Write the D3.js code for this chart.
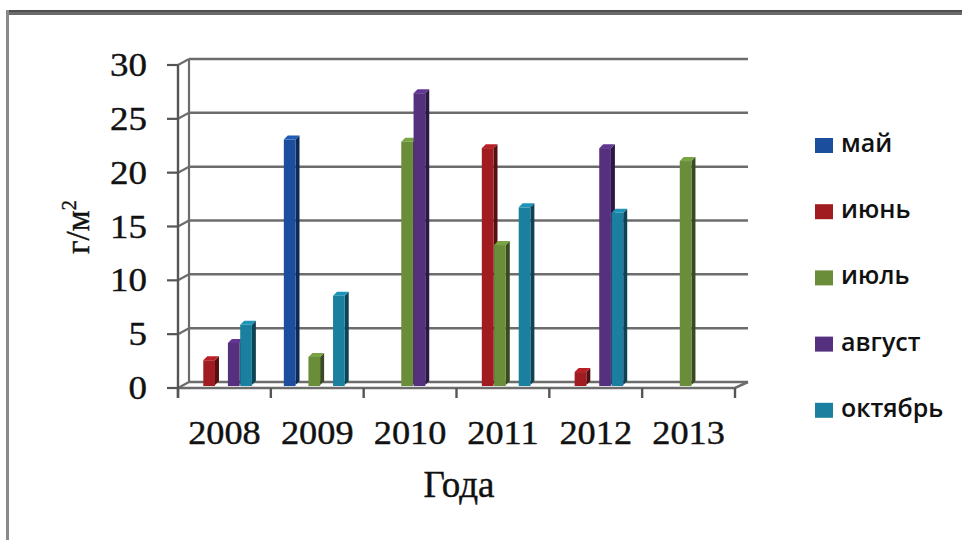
<!DOCTYPE html>
<html>
<head>
<meta charset="utf-8">
<script src="https://d3js.org/d3.v7.min.js"></script>
<style>
  body { margin: 0; background: #fff; }
</style>
</head>
<body>
<div id="chart"></div>
<script>
// data (г/м2 by month and year)
var years = ["2008", "2009", "2010", "2011", "2012", "2013"];
var months = ["май", "июнь", "июль", "август", "октябрь"];
var may     = [0, 22.8, 0, 0, 0, 0];
var june    = [2.3, 0, 0, 22.0, 1.2, 0];
var july    = [0, 2.6, 22.6, 13.0, 0, 20.8];
var august  = [3.9, 0, 27.1, 0, 22.0, 0];
var october = [5.6, 8.3, 0, 16.5, 16.0, 0];
var yTicks = [0, 5, 10, 15, 20, 25, 30];

var colors = ["#1b4f9e", "#a01c21", "#6a8d3a", "#54307f", "#1b80a0"];
var series = [may, june, july, august, october];

var width = 962, height = 540;
var depth = {dx: 11, dy: -6};   // back wall shift
var mid = {dx: 0, dy: -3};      // bars sit half way in

var svg = d3.select("#chart")
    .append("svg")
    .attr("width", width)
    .attr("height", height)
    .style("font-family", "'Liberation Serif', 'Times New Roman', serif");

// frame (only top and left edges are visible)
svg.append("rect").attr("x", 6).attr("y", 10).attr("width", width).attr("height", 5).attr("fill", "#6a6a6a");
svg.append("rect").attr("x", 6).attr("y", 10).attr("width", width).attr("height", 2).attr("fill", "#4f4f4f");
svg.append("rect").attr("x", 6).attr("y", 10).attr("width", 3).attr("height", height).attr("fill", "#8a8a8a");

// scales
var x0 = d3.scaleBand().domain(years).range([178, 735]);
var x1 = d3.scaleBand().domain(months).range([13, 13 + 5 * 12.3]);
var y = d3.scaleLinear().domain([0, 30]).range([388, 65]);

var g = svg.append("g");
var lineCol = "#6c6c6c";

// gridlines on the back wall plus diagonal joins to the front axis
yTicks.forEach(function (t) {
    var yf = y(t);
    g.append("line")
        .attr("x1", 178 + depth.dx).attr("x2", 748)
        .attr("y1", yf + depth.dy).attr("y2", yf + depth.dy)
        .attr("stroke", lineCol).attr("stroke-width", 2.5);
    g.append("line")
        .attr("x1", 178).attr("x2", 178 + depth.dx)
        .attr("y1", yf).attr("y2", yf + depth.dy)
        .attr("stroke", lineCol).attr("stroke-width", 2.2);
    g.append("line")
        .attr("x1", 167).attr("x2", 178)
        .attr("y1", yf).attr("y2", yf)
        .attr("stroke", "#555").attr("stroke-width", 2.2);
});

// back wall left edge
g.append("line")
    .attr("x1", 178 + depth.dx).attr("x2", 178 + depth.dx)
    .attr("y1", y(30) + depth.dy).attr("y2", y(0) + depth.dy)
    .attr("stroke", lineCol).attr("stroke-width", 2.2);

// floor
g.append("path")
    .attr("d", "M" + 178 + "," + y(0) + "L" + 735 + "," + y(0) + "L" + 748 + "," + (y(0) + depth.dy))
    .attr("fill", "none").attr("stroke", lineCol).attr("stroke-width", 2.5);

// front y axis
g.append("line")
    .attr("x1", 178).attr("x2", 178)
    .attr("y1", y(30)).attr("y2", y(0) + 10)
    .attr("stroke", "#555").attr("stroke-width", 2.4);

// x ticks at category edges
years.concat(["end"]).forEach(function (d, i) {
    var xx = i < years.length ? x0(d) : x0.range()[1];
    g.append("line")
        .attr("x1", xx).attr("x2", xx)
        .attr("y1", y(0)).attr("y2", y(0) + 10)
        .attr("stroke", "#555").attr("stroke-width", 2.4);
});

// bars as simple 3d boxes
var bw = x1.bandwidth() * 0.95, side = 4, topH = 4;
var bars = [];
years.forEach(function (yr, i) {
    series.forEach(function (s, j) {
        if (s[i] > 0) bars.push({year: yr, month: months[j], value: s[i], color: colors[j]});
    });
});

var barG = g.append("g").selectAll("g")
    .data(bars)
    .enter()
    .append("g");

barG.append("path")   // side
    .attr("d", function (d) {
        var xr = x0(d.year) + x1(d.month) + bw, yt = y(d.value) + mid.dy, yb = y(0) + mid.dy;
        return "M" + xr + "," + yt + "L" + (xr + side) + "," + (yt - topH) + "L" + (xr + side) + "," + (yb - topH) + "L" + xr + "," + yb + "Z";
    })
    .attr("fill", function (d) { return d3.color(d.color).darker(1.8); });

barG.append("rect")   // front
    .attr("x", function (d) { return x0(d.year) + x1(d.month); })
    .attr("y", function (d) { return y(d.value) + mid.dy; })
    .attr("width", bw)
    .attr("height", function (d) { return y(0) - y(d.value) + 1; })
    .attr("fill", function (d) { return d.color; });

barG.append("path")   // top
    .attr("d", function (d) {
        var xl = x0(d.year) + x1(d.month), yt = y(d.value) + mid.dy;
        return "M" + xl + "," + yt + "L" + (xl + side) + "," + (yt - topH) + "L" + (xl + bw + side) + "," + (yt - topH) + "L" + (xl + bw) + "," + yt + "Z";
    })
    .attr("fill", function (d) { return d3.color(d.color).brighter(0.4); });

// y tick labels
g.selectAll("ytext")
    .data(yTicks)
    .enter()
    .append("text")
    .attr("text-anchor", "end")
    .attr("transform", function (d) { return "translate(147," + (y(d) + 11) + ") scale(1.12,1)"; })
    .attr("font-size", 33)
    .attr("fill", "#111")
    .attr("stroke", "#111")
    .attr("stroke-width", 0.4)
    .text(function (d) { return d; });

// x tick labels
g.selectAll("xtext")
    .data(years)
    .enter()
    .append("text")
    .attr("text-anchor", "middle")
    .attr("transform", function (d) { return "translate(" + (x0(d) + x0.bandwidth() / 2) + ",444) scale(1.1,1)"; })
    .attr("font-size", 33)
    .attr("fill", "#111")
    .attr("stroke", "#111")
    .attr("stroke-width", 0.4)
    .text(function (d) { return d; });

// axis titles
svg.append("text")
    .attr("text-anchor", "middle")
    .attr("x", 459)
    .attr("y", 497)
    .attr("font-size", 37)
    .attr("fill", "#111")
    .attr("stroke", "#111")
    .attr("stroke-width", 0.4)
    .text("Года");

var yt = svg.append("text")
    .attr("text-anchor", "middle")
    .attr("transform", "translate(89,227) rotate(-90)")
    .attr("font-size", 33)
    .attr("fill", "#111")
    .attr("stroke", "#111")
    .attr("stroke-width", 0.4);
yt.append("tspan").text("г/м");
yt.append("tspan").attr("font-size", 21).attr("dy", -13).text("2");

// legend
var legend = svg.append("g").selectAll("g")
    .data(months)
    .enter()
    .append("g")
    .attr("transform", function (d, i) { return "translate(815," + (138 + i * 66.2) + ")"; });

legend.append("rect")
    .attr("width", 18)
    .attr("height", 15)
    .attr("fill", function (d, i) { return colors[i]; });

legend.append("text")
    .attr("x", 26)
    .attr("y", 14)
    .attr("font-family", "'Open Sans', sans-serif")
    .attr("font-weight", 600)
    .attr("font-size", 25)
    .attr("fill", "#111")
    .text(function (d) { return d; });
</script>
</body>
</html>
